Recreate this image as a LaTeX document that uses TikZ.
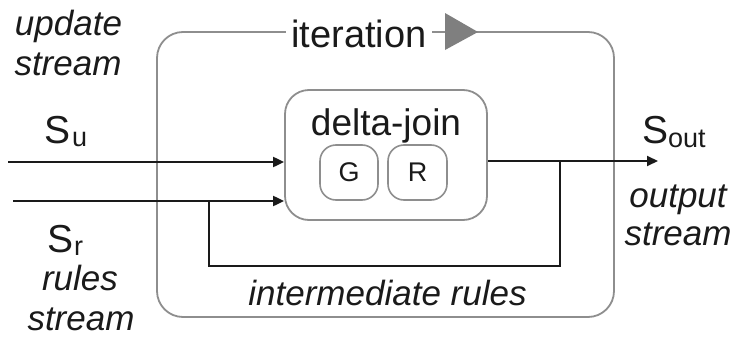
\documentclass[tikz,border=0pt]{standalone}
\usepackage{fontspec}
\setmainfont{Liberation Sans}
\usetikzlibrary{arrows.meta}
\definecolor{boxgray}{HTML}{8E8E8E}
\definecolor{trigray}{HTML}{7F7F7F}
\definecolor{ink}{HTML}{1A1A1A}
\begin{document}
\begin{tikzpicture}[x=1pt,y=-1pt,
  outerbox/.style={draw=boxgray, line width=1.8pt, rounded corners=26pt, inner sep=0pt},
  joinbox/.style={draw=boxgray, line width=1.8pt, rounded corners=24pt, inner sep=0pt},
  smallbox/.style={draw=boxgray, line width=1.6pt, rounded corners=16pt, inner sep=0pt,
     font=\fontsize{27}{27}\selectfont, text=ink},
  arr/.style={draw=ink, line width=2pt, -{Triangle[length=11pt,width=10pt]}},
  line/.style={draw=ink, line width=2pt},
  ital/.style={font=\fontsize{35}{40}\selectfont\itshape, text=ink, inner sep=0pt},
  big/.style={font=\fontsize{38}{40}\selectfont, text=ink, inner sep=0pt},
]
\useasboundingbox (0,0) rectangle (736,340);

% outer iteration box
\node[outerbox, minimum width=457pt, minimum height=285pt] (iter) at (385.5,174.5) {};
\node[big, fill=white, inner xsep=5pt, anchor=base] (itlabel) at (359,47) {iteration};
\fill[trigray] (445,13) -- (478,32) -- (445,50) -- cycle;

% delta-join box
\node[joinbox, minimum width=202pt, minimum height=130pt] (dj) at (386,155) {};
\node[big, font=\fontsize{37}{40}\selectfont, anchor=base] (djlabel) at (386,135) {delta-join};
\node[smallbox, minimum width=58pt, minimum height=55pt] (g) at (349,172.5) {G};
\node[smallbox, minimum width=59pt, minimum height=55pt] (r) at (417.5,172.5) {R};

% inputs
\coordinate (su0) at (8,162);
\coordinate (sr0) at (13,201);
\draw[arr] (su0) -- (dj.west |- su0);
\draw[arr] (sr0) -- (dj.west |- sr0);

% output
\coordinate (out) at (658,161);
\draw[arr] (dj.east |- out) -- (out);

% feedback
\coordinate (fbj) at (560,161);
\coordinate (fbR) at (560,266);
\coordinate (fbL) at (209,266);
\coordinate (fbT) at (209,201);
\draw[line] (fbj) -- (fbR) -- (fbL) -- (fbT);

% labels
\node[ital, anchor=base] (upd1) at (68.5,35) {update};
\node[ital, anchor=base] (upd2) at (68,75) {stream};
\node[ital, anchor=base] (rul1) at (80,290) {rules};
\node[ital, anchor=base] (rul2) at (81,330) {stream};
\node[ital, anchor=base] (out1) at (678,207) {output};
\node[ital, anchor=base] (out2) at (678,245) {stream};
\node[ital, anchor=base] (inter) at (387.5,305) {intermediate rules};

\node[big, font=\fontsize{39}{40}\selectfont, anchor=base west] (su) at (44,143)
  {S\hspace{2pt}\raisebox{-3pt}{\fontsize{27}{27}\selectfont u}};
\node[big, font=\fontsize{39}{40}\selectfont, anchor=base west] (sr) at (47,252)
  {S\hspace{1pt}\raisebox{-3pt}{\fontsize{27}{27}\selectfont r}};
\node[big, font=\fontsize{39}{40}\selectfont, anchor=base west] (sout) at (642,143)
  {S\raisebox{-4pt}{\fontsize{27}{27}\selectfont out}};
\end{tikzpicture}
\end{document}
